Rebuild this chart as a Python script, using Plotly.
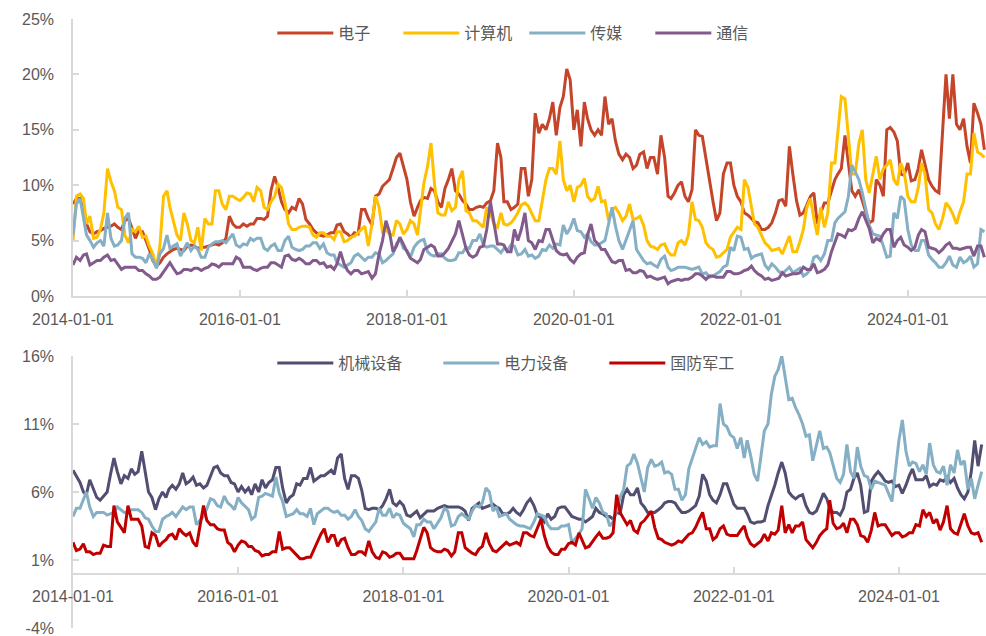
import pandas as pd
import plotly.graph_objects as go

# ---------------- data (%; values read on the 1st and the 16th of each month) ----------------
top_start = "2014-01-01"
bottom_start = "2014-01-01"

# ---- top panel, 1st of month ----
dianzi = [8.3, 8.8, 6.5, 5.6, 5.9, 6.2, 6.5, 6.0, 7.0, 5.2, 5.8, 4.2, 2.7, 3.5, 4.0, 4.3, 4.1, 4.6, 4.3, 4.4,
          4.6, 4.6, 5.2, 6.5, 6.2, 6.3, 6.5, 7.0, 7.2, 10.8, 8.5, 7.5, 7.8, 8.3, 6.5,
          5.7, 5.4, 5.7, 6.4, 5.8, 5.3, 5.6, 7.8, 6.4, 9.2, 10.2, 11.5, 12.9, 10.5, 7.2, 8.6, 8.8, 9.5, 8.0,
          10.5, 9.5, 8.6, 7.8, 8.0, 8.0, 8.6, 13.8, 8.5, 7.8, 8.3, 11.5, 10.5,
          14.7, 15.0, 17.5, 17.0, 20.5, 15.0, 13.5, 16.0, 14.5, 14.5, 15.5, 14.0, 12.3, 12.5, 11.8, 13.0, 12.5,
          11.0, 12.5, 8.8, 10.0, 9.0, 9.6, 14.5, 12.3, 8.5, 7.5, 12.0, 10.0, 8.5, 7.3, 6.7, 6.0,
          6.2, 7.5, 8.7, 13.5, 8.6, 7.5, 9.0, 6.5, 8.4, 9.5, 11.0, 14.5, 9.5, 9.6, 7.5, 6.8, 10.0, 15.0, 14.8,
          11.0, 12.0, 10.5, 13.2, 10.5, 9.5, 15.0, 16.0, 15.5, 16.0, 12.0, 16.5, 13.2]
jisuanji = [5.0, 9.2, 6.5, 5.2, 6.0, 11.5, 9.5, 7.8, 4.8, 5.8, 5.3, 4.5, 2.6, 9.0, 8.0, 5.5, 7.5, 5.0, 6.2, 7.0,
            6.5, 9.5, 7.8, 9.0, 8.6, 9.3, 8.5, 9.5, 7.8, 9.0, 9.8, 6.5, 6.0, 6.3, 6.2,
            5.3, 5.7, 5.4, 5.8, 4.9, 5.3, 5.7, 6.3, 6.5, 8.0, 6.0, 5.5, 6.5, 6.0, 6.5, 7.5, 11.7, 10.2, 7.3,
            8.5, 8.0, 11.3, 7.5, 6.8, 6.2, 7.5, 6.2, 6.5, 6.6, 7.5, 8.4, 7.5,
            6.8, 10.5, 11.5, 14.0, 9.5, 8.5, 10.0, 9.0, 8.8, 8.5, 6.8, 8.0, 6.8, 8.3, 7.0, 6.4, 4.5, 4.2, 4.7,
            3.7, 4.8, 4.6, 8.5, 6.8, 4.8, 4.2, 3.6, 4.2, 5.7, 6.0, 9.8, 6.5, 5.4,
            4.5, 4.2, 3.8, 5.4, 4.0, 6.0, 8.8, 5.5, 6.2, 12.0, 14.5, 17.8, 11.0, 13.8, 10.5, 11.2, 10.5, 11.8,
            10.5, 12.0, 9.0, 8.5, 12.0, 7.8, 6.5, 7.0, 8.0, 6.5, 8.5, 11.0, 13.0, 12.5]
chuanmei = [5.5, 8.8, 5.5, 4.4, 5.0, 7.5, 4.5, 5.0, 7.5, 3.5, 3.4, 3.8, 2.5, 4.3, 4.3, 4.7, 4.2, 4.1, 4.2, 3.5,
            4.7, 4.9, 4.8, 5.6, 4.4, 4.6, 5.0, 5.2, 4.1, 4.7, 4.1, 5.4, 4.2, 4.2, 4.5,
            4.8, 4.7, 3.7, 3.0, 2.6, 3.0, 3.8, 3.2, 3.5, 3.8, 3.2, 3.8, 5.2, 4.1, 4.4, 5.0, 4.0, 3.6, 3.8,
            3.2, 3.3, 3.9, 4.3, 5.0, 4.6, 4.5, 4.2, 4.3, 4.6, 3.7, 4.2, 3.7,
            3.6, 4.1, 4.3, 4.6, 5.6, 7.0, 5.8, 5.6, 4.6, 4.8, 6.5, 6.3, 4.2, 6.0, 4.2, 3.2, 3.0, 2.6, 3.6,
            2.3, 2.6, 2.6, 2.4, 2.6, 2.1, 1.8, 2.2, 2.8, 4.1, 5.3, 4.3, 3.6, 3.8,
            2.4, 2.6, 2.0, 2.6, 2.3, 1.8, 2.4, 3.6, 3.8, 5.0, 7.0, 7.6, 11.8, 10.5, 7.8, 5.6, 5.4, 3.5, 7.5,
            9.0, 6.0, 4.1, 5.0, 3.7, 3.0, 2.6, 3.6, 2.6, 3.0, 3.6, 2.9, 5.8]
tongxin = [2.8, 3.2, 3.8, 3.0, 3.2, 3.7, 3.3, 2.4, 2.6, 2.6, 2.3, 1.8, 1.5, 2.2, 3.0, 2.0, 2.4, 2.3, 2.5, 2.5,
           2.9, 2.6, 2.9, 2.9, 3.3, 2.6, 2.4, 2.5, 2.6, 3.0, 2.6, 3.7, 3.2, 3.2, 2.9,
           3.2, 3.0, 2.7, 2.9, 2.9, 2.0, 2.3, 2.1, 1.6, 3.8, 6.8, 4.0, 5.3, 4.0, 3.2, 3.3, 4.4, 4.4, 3.6,
           4.3, 5.6, 5.5, 3.7, 3.7, 4.5, 8.5, 4.7, 4.6, 4.0, 5.0, 7.5, 4.8,
           5.0, 6.0, 5.0, 3.8, 3.8, 3.0, 3.8, 5.5, 5.0, 4.2, 3.6, 3.0, 3.2, 2.4, 2.1, 2.2, 1.8, 1.5, 1.7,
           1.3, 1.5, 1.5, 1.7, 2.0, 1.5, 1.8, 1.7, 2.2, 2.0, 2.1, 2.4, 2.3, 1.8,
           1.6, 1.5, 2.1, 1.9, 2.0, 2.6, 2.4, 2.1, 2.4, 4.0, 5.6, 5.3, 5.9, 7.0, 6.8, 4.8, 5.0, 6.0, 4.4,
           5.3, 4.4, 4.4, 6.0, 4.4, 4.2, 4.2, 4.8, 4.3, 4.3, 4.4, 4.5, 3.5]

# ---- top panel, 16th of month ----
dianzi_mid = [8.8, 7.5, 5.8, 5.8, 6.1, 6.3, 6.2, 6.8, 6.0, 5.9, 5.0, 3.2, 3.0, 3.8, 4.2, 4.2, 4.5, 4.5, 4.4, 4.5,
              4.7, 4.8, 7.2, 6.2, 6.5, 6.5, 7.0, 6.9, 9.5, 9.8, 7.8, 8.0, 8.8, 6.9,
              6.0, 5.5, 5.5, 5.7, 6.5, 5.6, 5.7, 7.8, 7.0, 9.0, 9.9, 10.5, 12.5, 11.8, 8.5, 8.0, 8.9, 9.7, 8.5,
              9.7, 11.5, 9.2, 8.3, 7.8, 8.1, 8.4, 9.5, 12.5, 8.5, 8.0, 11.5, 9.0,
              16.5, 15.5, 16.0, 14.5, 18.0, 19.5, 16.8, 17.5, 15.0, 15.0, 18.0, 16.0, 12.8, 12.8, 11.5, 12.8, 11.5,
              12.5, 14.5, 9.0, 9.3, 10.3, 8.5, 15.0, 14.4, 10.5, 6.8, 11.0, 12.0, 9.0, 7.5, 7.0, 6.6, 6.0,
              6.6, 8.6, 8.1, 11.0, 7.3, 8.2, 9.3, 7.5, 8.4, 10.5, 11.5, 11.8, 9.0, 8.6, 6.6, 10.5, 9.0, 15.2, 14.0,
              10.9, 10.4, 11.5, 11.8, 9.9, 9.3, 20.0, 20.0, 15.0, 13.5, 17.4, 15.5]
jisuanji_mid = [9.0, 8.8, 7.2, 5.3, 7.5, 10.3, 8.0, 5.5, 6.0, 6.3, 5.4, 3.8, 4.5, 9.5, 6.9, 5.0, 6.5, 4.8, 4.1, 6.5,
                9.5, 8.3, 9.0, 8.8, 8.9, 9.2, 9.8, 8.0, 8.5, 10.1, 8.4, 6.0, 6.2, 6.3,
                5.5, 5.7, 5.4, 5.1, 5.8, 5.0, 5.4, 6.0, 4.5, 9.0, 5.8, 5.6, 6.8, 5.6, 6.8, 5.5, 10.2, 13.8, 7.5,
                7.3, 7.7, 10.5, 7.7, 6.8, 6.5, 8.0, 6.5, 7.5, 6.4, 7.0, 8.2, 8.1,
                6.8, 8.7, 11.5, 11.0, 10.5, 10.0, 9.8, 10.6, 8.6, 9.9, 8.6, 7.8, 7.5, 7.2, 6.9, 7.2, 5.0, 4.4, 4.6,
                4.0, 3.7, 5.0, 5.5, 6.9, 6.2, 4.4, 3.5, 3.9, 5.3, 6.2, 10.5, 8.0, 6.2, 4.8,
                4.1, 4.3, 4.6, 4.0, 4.9, 8.0, 7.0, 8.0, 7.5, 12.0, 18.0, 14.0, 11.0, 15.0, 9.3, 12.6, 11.5, 12.3,
                10.0, 11.2, 8.5, 9.8, 11.0, 7.5, 6.0, 8.4, 7.4, 7.6, 11.0, 14.7, 12.8]
chuanmei_mid = [8.3, 7.0, 5.0, 4.8, 4.5, 5.2, 4.6, 7.0, 3.8, 3.5, 3.0, 3.3, 3.8, 5.5, 4.5, 3.6, 4.8, 4.5, 3.5, 4.4,
                4.9, 5.0, 5.2, 4.6, 4.7, 5.2, 5.2, 4.3, 4.5, 4.1, 5.0, 4.4, 4.1, 4.5,
                4.8, 4.3, 3.9, 3.7, 2.8, 2.8, 3.6, 3.5, 3.5, 3.9, 3.0, 3.5, 4.7, 4.3, 3.5, 4.8, 5.1, 3.7, 3.8,
                3.4, 3.2, 3.9, 4.4, 5.0, 5.6, 4.4, 4.5, 3.9, 4.1, 4.5, 3.8, 3.6,
                3.4, 4.2, 4.6, 4.7, 6.4, 6.1, 5.9, 5.3, 4.9, 4.6, 5.0, 8.0, 5.0, 5.0, 6.8, 3.7, 2.9, 2.8, 3.3,
                2.6, 2.4, 2.6, 2.5, 2.5, 2.0, 1.7, 2.0, 2.6, 4.4, 5.4, 4.2, 3.4, 3.7, 2.8,
                2.9, 2.2, 2.3, 2.1, 2.5, 2.0, 3.5, 3.2, 5.0, 6.6, 7.3, 9.0, 11.2, 9.3, 6.4, 5.5, 4.5, 3.6, 7.0,
                8.7, 4.6, 4.1, 5.0, 3.3, 2.6, 3.0, 2.8, 3.5, 3.2, 2.6, 6.0]
tongxin_mid = [3.5, 3.7, 2.8, 3.2, 3.5, 3.2, 2.9, 2.6, 2.6, 2.3, 2.0, 1.5, 1.7, 2.7, 2.5, 2.1, 2.4, 2.5, 2.3, 2.6,
               2.8, 2.9, 2.9, 3.5, 2.6, 2.6, 2.3, 2.6, 3.0, 2.8, 3.6, 3.3, 3.4, 2.9,
               3.2, 2.9, 2.6, 2.4, 4.0, 2.3, 2.3, 2.0, 2.2, 2.0, 5.0, 5.8, 4.5, 4.6, 3.4, 3.0, 4.2, 4.6, 3.6,
               3.9, 4.9, 6.8, 4.3, 3.5, 4.4, 6.0, 6.5, 4.7, 4.0, 6.0, 6.0, 5.0,
               4.2, 4.9, 6.0, 4.1, 3.7, 3.3, 3.5, 3.9, 6.5, 4.7, 4.2, 3.1, 3.2, 2.3, 2.1, 2.3, 1.7, 1.6, 1.6,
               1.1, 1.4, 1.4, 1.5, 2.0, 1.8, 1.8, 1.7, 1.7, 2.2, 2.0, 2.3, 2.7, 2.0, 1.5,
               1.4, 1.6, 1.8, 2.0, 2.1, 2.4, 2.9, 2.2, 2.8, 4.8, 5.5, 6.0, 6.1, 7.6, 6.1, 5.2, 5.6, 6.0, 5.0,
               4.6, 4.1, 5.5, 5.8, 4.3, 3.9, 4.6, 4.3, 4.2, 4.4, 3.6, 4.5]

# ---- bottom panel, 1st of month ----
jixie = [7.6, 6.7, 5.8, 6.2, 5.4, 6.0, 8.5, 6.6, 7.0, 7.3, 9.0, 6.0, 4.7, 6.0, 6.2, 6.2, 7.4, 6.8, 6.5, 6.3,
         7.1, 7.9, 7.2, 6.7, 6.0, 6.0, 5.8, 6.0, 6.3, 6.9, 7.8, 5.2, 5.8, 6.5, 7.0,
         6.8, 7.2, 7.4, 7.3, 8.8, 6.2, 7.2, 6.1, 4.7, 4.8, 5.0, 6.2, 5.0, 5.0, 4.2, 4.6, 4.4, 4.6, 4.8,
         5.0, 4.9, 4.9, 4.6, 4.8, 5.2, 4.9, 5.1, 4.8, 4.4, 4.8, 4.3, 5.2,
         5.0, 4.1, 4.4, 4.2, 4.9, 4.5, 4.1, 4.0, 4.0, 4.8, 4.4, 4.2, 4.5, 5.8, 5.8, 6.3, 4.9, 4.5, 4.7,
         5.2, 5.3, 4.8, 4.5, 4.8, 5.7, 6.8, 5.4, 5.8, 6.6, 5.1, 4.8, 4.4, 3.7,
         3.8, 5.0, 6.5, 8.2, 6.0, 5.5, 5.8, 4.5, 4.6, 5.9, 4.8, 4.5, 4.8, 6.2, 7.4, 4.5, 6.8, 7.5, 6.8,
         6.8, 6.5, 6.5, 7.7, 6.9, 7.2, 6.6, 6.9, 7.1, 7.0, 5.8, 6.0, 9.8, 9.5]
dianli = [4.2, 4.8, 6.0, 4.2, 4.5, 4.3, 4.5, 4.7, 4.5, 4.7, 4.5, 4.0, 3.1, 4.0, 4.3, 4.2, 4.9, 4.9, 3.6, 4.2,
          5.5, 5.0, 5.7, 5.0, 5.6, 4.9, 4.0, 5.6, 5.9, 5.7, 5.9, 4.2, 4.4, 4.4, 4.2,
          3.6, 4.6, 4.8, 4.5, 4.3, 4.0, 4.7, 3.9, 3.1, 3.8, 4.3, 4.8, 4.4, 3.7, 3.3, 3.6, 4.0, 3.8, 3.7,
          4.8, 3.5, 4.2, 4.2, 4.6, 4.9, 6.3, 4.6, 4.2, 4.4, 3.8, 3.5, 3.4,
          3.8, 4.3, 3.6, 3.3, 3.5, 3.6, 2.6, 3.3, 5.5, 5.6, 4.5, 3.5, 4.7, 6.2, 8.1, 8.1, 6.0, 8.4, 8.0,
          7.4, 7.3, 6.2, 5.8, 8.4, 10.0, 9.7, 9.4, 12.5, 10.8, 10.0, 10.0, 9.8, 7.3,
          8.5, 11.0, 14.5, 16.0, 12.8, 12.2, 11.0, 10.2, 9.5, 9.2, 8.9, 7.0, 7.3, 7.5, 9.3, 7.2, 6.2, 6.7,
          6.5, 5.3, 9.8, 9.0, 8.2, 7.5, 7.3, 8.0, 7.4, 6.5, 7.4, 8.0, 6.2, 5.5, 7.5]
guofang = [2.3, 1.8, 1.6, 1.4, 1.5, 2.0, 5.0, 3.4, 5.0, 4.0, 3.5, 1.9, 2.8, 2.3, 2.8, 2.5, 3.0, 3.0, 2.0, 5.0,
           3.6, 3.3, 3.2, 2.1, 2.1, 2.3, 2.0, 1.6, 1.4, 1.6, 3.1, 1.9, 1.6, 1.1, 1.2,
           1.8, 2.9, 2.3, 2.8, 2.5, 1.9, 1.4, 1.6, 2.4, 1.2, 1.6, 1.2, 1.5, 1.1, 1.1, 1.7, 3.4, 1.9, 1.6,
           1.8, 1.3, 3.0, 1.9, 1.5, 1.8, 3.0, 1.7, 1.8, 2.3, 2.2, 2.1, 3.0,
           2.7, 4.0, 2.0, 1.4, 1.8, 2.2, 2.1, 2.5, 2.0, 2.7, 2.6, 2.7, 5.8, 4.0, 3.9, 3.0, 3.9, 4.6, 2.6,
           2.3, 2.1, 2.4, 2.6, 3.0, 4.0, 3.3, 2.5, 3.3, 2.9, 2.8, 3.2, 2.7, 2.0,
           2.4, 2.4, 2.9, 5.0, 3.6, 3.5, 3.8, 2.2, 2.3, 3.1, 5.4, 3.3, 3.7, 4.0, 3.6, 2.7, 3.2, 3.5, 3.6,
           2.8, 3.0, 2.8, 3.0, 3.5, 4.2, 3.7, 3.2, 5.0, 3.0, 3.6, 3.5, 2.9, 2.3]

# ---- bottom panel, 16th of month ----
jixie_mid = [7.2, 6.0, 6.9, 5.6, 5.7, 7.3, 7.5, 7.2, 7.7, 7.5, 7.5, 5.6, 5.5, 5.6, 6.5, 6.6, 6.6, 7.1, 6.6, 6.5,
             7.8, 7.4, 7.2, 6.6, 6.4, 6.3, 6.6, 6.9, 6.7, 7.8, 6.3, 5.6, 6.6, 7.0,
             7.8, 7.0, 7.2, 7.6, 8.5, 7.0, 7.2, 7.0, 4.8, 4.8, 4.7, 5.5, 5.2, 5.3, 4.3, 4.4, 4.1, 4.6, 4.6,
             4.9, 4.9, 4.9, 4.8, 3.9, 5.0, 4.8, 5.0, 4.9, 4.4, 4.5, 4.5, 4.7,
             5.5, 4.3, 3.8, 4.0, 4.8, 4.9, 4.2, 4.0, 3.8, 4.2, 4.5, 4.2, 4.0, 4.4, 6.2, 5.8, 5.2, 4.5, 4.5,
             4.9, 5.3, 5.2, 4.5, 4.6, 5.0, 7.3, 5.8, 5.2, 6.6, 5.8, 4.8, 4.8, 3.8, 3.8,
             3.9, 5.7, 7.4, 7.4, 5.7, 5.7, 5.0, 4.4, 5.2, 5.5, 4.5, 4.3, 6.0, 7.0, 6.5, 4.6, 7.2, 7.2, 6.7,
             6.4, 5.9, 7.2, 6.9, 6.9, 6.4, 6.5, 6.8, 6.7, 6.3, 5.5, 7.5, 7.9]
dianli_mid = [4.8, 5.4, 4.9, 4.5, 4.5, 4.4, 4.9, 4.5, 4.7, 4.7, 4.1, 3.5, 3.1, 4.2, 4.5, 4.6, 4.7, 4.9, 3.9, 4.8,
              5.4, 4.9, 5.2, 4.7, 5.2, 4.7, 4.2, 5.7, 5.8, 7.1, 5.3, 4.3, 4.7, 4.4,
              4.8, 4.4, 4.8, 4.6, 4.6, 4.3, 4.2, 4.2, 3.3, 3.4, 4.8, 4.3, 4.1, 4.3, 3.5, 2.7, 3.6, 3.8, 3.3,
              4.1, 4.6, 3.6, 4.4, 4.0, 5.0, 5.2, 6.0, 4.9, 4.3, 4.0, 3.6, 3.5,
              3.3, 4.4, 4.2, 3.3, 3.3, 3.5, 2.3, 2.9, 6.2, 4.8, 5.2, 4.4, 3.8, 5.6, 7.9, 8.8, 7.0, 7.8, 7.9,
              8.2, 7.5, 6.2, 5.4, 7.7, 9.1, 9.5, 9.3, 9.4, 11.0, 10.2, 9.2, 8.5, 8.7, 6.8,
              10.5, 13.2, 15.0, 14.5, 12.9, 11.7, 10.1, 8.3, 10.5, 9.3, 8.0, 6.7, 9.5, 7.0, 7.9, 7.1, 6.8, 6.6,
              5.9, 7.5, 11.3, 7.9, 8.1, 8.0, 9.6, 7.5, 7.9, 8.0, 9.1, 8.3, 7.0, 6.5]
guofang_mid = [1.7, 2.2, 1.6, 1.5, 2.1, 2.0, 3.8, 3.0, 4.0, 4.0, 2.0, 3.0, 2.0, 2.5, 2.9, 3.3, 2.8, 2.3, 3.6, 3.9,
               3.6, 3.2, 2.3, 1.6, 2.4, 2.0, 1.7, 1.3, 1.4, 1.6, 1.8, 1.9, 1.3, 1.1,
               1.2, 2.3, 3.3, 2.8, 2.0, 2.6, 1.4, 1.6, 1.4, 1.6, 1.1, 1.5, 1.3, 1.5, 1.1, 1.1, 2.5, 3.0, 1.7,
               1.6, 1.7, 1.6, 3.0, 1.7, 1.4, 2.0, 2.2, 1.6, 2.1, 2.1, 2.3, 3.0,
               2.8, 3.3, 2.8, 1.6, 1.4, 1.8, 2.3, 3.0, 1.9, 2.4, 3.0, 2.6, 3.0, 4.5, 3.6, 3.2, 3.7, 4.2, 3.4,
               2.5, 2.2, 2.2, 2.3, 2.9, 3.4, 4.5, 3.3, 2.7, 3.5, 2.8, 2.8, 3.5, 2.2, 2.2,
               2.9, 3.0, 3.2, 3.0, 3.0, 3.5, 2.5, 1.9, 2.8, 3.3, 3.7, 3.4, 3.0, 4.0, 2.8, 2.3, 4.5, 3.6, 3.2,
               3.0, 2.7, 3.0, 3.6, 4.7, 4.5, 4.0, 3.8, 3.3, 2.9, 4.4, 3.0, 3.0]

top_names = ["电子", "计算机", "传媒", "通信"]
top_series = [(dianzi, dianzi_mid), (jisuanji, jisuanji_mid), (chuanmei, chuanmei_mid), (tongxin, tongxin_mid)]
bottom_names = ["机械设备", "电力设备", "国防军工"]
bottom_series = [(jixie, jixie_mid), (dianli, dianli_mid), (guofang, guofang_mid)]

top_ticks = [0, 5, 10, 15, 20, 25]
bottom_ticks = [-4, 1, 6, 11, 16]


def build(start, monthly, mid):
    """Merge 1st-of-month and 16th-of-month readings into one dated series."""
    dates, vals = [], []
    base = pd.Timestamp(start)
    for i, v in enumerate(monthly):
        d = base + pd.DateOffset(months=i)
        dates.append(d)
        vals.append(v)
        if i < len(mid):
            dates.append(d + pd.Timedelta(days=15))
            vals.append(mid[i])
    return dates, vals


# ---------------- styling ----------------
top_colors = ["#C5452B", "#FFC000", "#84AFC4", "#825A8C"]
bottom_colors = ["#514E72", "#84AFC4", "#C00000"]
GRAY_TXT = "#595959"
AXIS = "#D9D9D9"
FONT = "Arial, 'Liberation Sans', 'Noto Sans CJK SC', sans-serif"

fig = go.Figure()
for name, (m, h), col in zip(top_names, top_series, top_colors):
    d, v = build(top_start, m, h)
    fig.add_trace(go.Scatter(x=d, y=v, name=name, mode="lines",
                             line=dict(color=col, width=3), xaxis="x", yaxis="y",
                             legend="legend"))
for name, (m, h), col in zip(bottom_names, bottom_series, bottom_colors):
    d, v = build(bottom_start, m, h)
    fig.add_trace(go.Scatter(x=d, y=v, name=name, mode="lines",
                             line=dict(color=col, width=3), xaxis="x2", yaxis="y2",
                             legend="legend2"))

top_dom = [0.5452, 1.0]
bot_dom = [0.0, 0.4466]
zero_pos = bot_dom[0] + (0 - bottom_ticks[0]) / (bottom_ticks[-1] - bottom_ticks[0]) * (bot_dom[1] - bot_dom[0])

xcommon = dict(type="date", tickformat="%Y-%m-%d", dtick="M24", tick0="2014-01-01",
               showline=True, linecolor=AXIS, linewidth=2, ticks="inside", ticklen=6,
               tickcolor=AXIS, tickwidth=1.5, showgrid=False, zeroline=False,
               tickfont=dict(size=16, color=GRAY_TXT, family=FONT), ticklabelstandoff=8)
ycommon = dict(showline=True, linecolor=AXIS, linewidth=1.5, ticks="inside", ticklen=6,
               tickcolor=AXIS, tickwidth=1.5, showgrid=False, zeroline=False,
               tickfont=dict(size=16, color=GRAY_TXT, family=FONT), ticklabelstandoff=14,
               ticklabeloverflow="allow")

fig.update_layout(
    width=986, height=636,
    margin=dict(l=73, r=0, t=19, b=8),
    paper_bgcolor="white", plot_bgcolor="white",
    font=dict(family=FONT, color=GRAY_TXT, size=16),
    hovermode=False,
    xaxis=dict(xcommon, domain=[0, 1], anchor="y", range=["2014-01-01", "2024-12-08"]),
    yaxis=dict(ycommon, domain=top_dom, range=[top_ticks[0], top_ticks[-1]], tickvals=top_ticks,
               ticktext=[f"{v}%" for v in top_ticks]),
    xaxis2=dict(xcommon, domain=[0, 1], anchor="free", position=zero_pos,
                range=["2014-01-01", "2025-01-20"]),
    yaxis2=dict(ycommon, domain=bot_dom, anchor="x2", range=[bottom_ticks[0], bottom_ticks[-1]],
                tickvals=bottom_ticks, ticktext=[f"{v}%" for v in bottom_ticks]),
    legend=dict(orientation="h", x=0.2183, xanchor="left", y=0.977, yanchor="middle",
                font=dict(size=16, color=GRAY_TXT, family=FONT), itemwidth=56, entrywidth=55,
                bgcolor="rgba(0,0,0,0)"),
    legend2=dict(orientation="h", x=0.2183, xanchor="left", y=0.435, yanchor="middle",
                 font=dict(size=16, color=GRAY_TXT, family=FONT), itemwidth=56, entrywidth=95,
                 bgcolor="rgba(0,0,0,0)"),
)

fig.write_html("out.html", config={"displayModeBar": False},
               post_script="document.body.style.margin='0';document.body.style.overflow='hidden';")
